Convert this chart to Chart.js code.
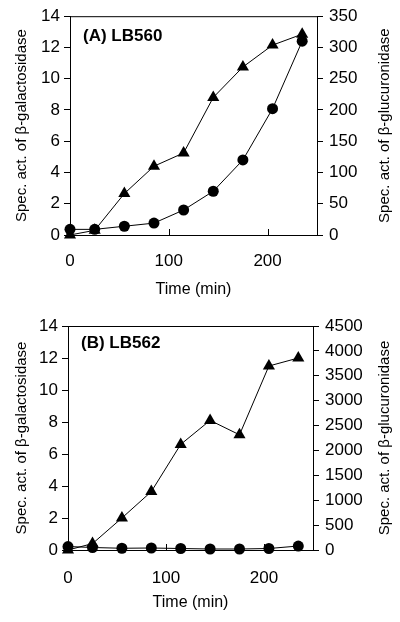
<!DOCTYPE html>
<html>
<head>
<meta charset="utf-8">
<script src="https://cdn.jsdelivr.net/npm/chart.js@4/dist/chart.umd.min.js"></script>
<style>
  body { margin: 0; background: #fff; }
  .panel { position: absolute; left: 0; }
</style>
</head>
<body>
<div class="panel" style="top:0"><canvas id="chartA" width="400" height="300"></canvas></div>
<div class="panel" style="top:300px"><canvas id="chartB" width="400" height="322"></canvas></div>
<script>
// Sampling times (min)
const times = [0, 25, 55, 85, 115, 145, 175, 205, 235];

// (A) LB560
const galA = [0, 0.3, 2.65, 4.4, 5.25, 8.8, 10.75, 12.15, 12.85];
const glucA = [9, 9, 14, 19, 40, 70, 120, 202, 310];

// (B) LB562
const galB = [0, 0.4, 2.0, 3.65, 6.6, 8.1, 7.2, 11.5, 12.0];
const glucB = [70, 50, 35, 40, 30, 20, 20, 30, 80];

const galTicks = [0, 2, 4, 6, 8, 10, 12, 14];
const glucTicksA = [0, 50, 100, 150, 200, 250, 300, 350];
const glucTicksB = [0, 500, 1000, 1500, 2000, 2500, 3000, 3500, 4000, 4500];
const timeTicks = [0, 100, 200];

const FONT = '"Liberation Sans", Arial, Helvetica, sans-serif';

// top border of the box, inward x ticks, right axis title and panel label
const framePlugin = {
    id: 'frame',
    afterDraw(chart, args, opts) {
        const ctx = chart.ctx;
        const area = chart.chartArea;
        const x = chart.scales.x;
        ctx.save();
        ctx.strokeStyle = '#000';
        ctx.lineWidth = 1;
        ctx.beginPath();
        ctx.moveTo(area.left, area.top + 0.5);
        ctx.lineTo(area.right, area.top + 0.5);
        timeTicks.forEach(t => {
            const px = Math.round(x.getPixelForValue(t)) + 0.5;
            ctx.moveTo(px, area.bottom);
            ctx.lineTo(px, area.bottom - 6);
        });
        ctx.stroke();

        ctx.fillStyle = '#000';
        ctx.font = 'bold 17px ' + FONT;
        ctx.textBaseline = 'middle';
        ctx.fillText(opts.label, area.left + opts.dx, area.top + opts.dy);

        // right title reads bottom-to-top like the left one
        ctx.font = '15px ' + FONT;
        ctx.textAlign = 'center';
        ctx.translate(opts.rightTitleX, (area.top + area.bottom) / 2);
        ctx.rotate(-Math.PI / 2);
        ctx.fillText('Spec. act. of β-glucuronidase', 0, 0);
        ctx.restore();
    }
};

function makePoints(xs, ys) {
    return xs.map((t, i) => ({ x: t, y: ys[i] }));
}

function buildChart(id, cfg) {
    const ctx = document.getElementById(id).getContext('2d');
    return new Chart(ctx, {
        type: 'line',
        data: {
            datasets: [{
                label: 'β-galactosidase',
                data: makePoints(times, cfg.gal),
                yAxisID: 'y',
                borderColor: '#000',
                borderWidth: 1,
                backgroundColor: '#000',
                pointStyle: 'triangle',
                pointRadius: 7,
                pointBorderWidth: 0,
                tension: 0,
                clip: false
            }, {
                label: 'β-glucuronidase',
                data: makePoints(times, cfg.gluc),
                yAxisID: 'y1',
                borderColor: '#000',
                borderWidth: 1,
                backgroundColor: '#000',
                pointStyle: 'circle',
                pointRadius: 5.5,
                pointBorderWidth: 0,
                tension: 0,
                clip: false
            }]
        },
        options: {
            responsive: false,
            animation: false,
            layout: { padding: { top: cfg.top, left: 0, right: 0, bottom: 0 } },
            plugins: {
                legend: { display: false },
                tooltip: { enabled: false },
                frame: { label: cfg.label, dx: 13, dy: cfg.labelDy, rightTitleX: 385 }
            },
            scales: {
                x: {
                    type: 'linear',
                    min: 0,
                    max: 250,
                    afterBuildTicks: s => { s.ticks = timeTicks.map(v => ({ value: v })); },
                    afterFit: s => { s.height = cfg.xHeight; },
                    grid: { display: false },
                    border: { display: true, color: '#000', width: 1 },
                    ticks: { color: '#000', padding: cfg.xPad, font: { family: FONT, size: 17 } },
                    title: {
                        display: true,
                        text: 'Time (min)',
                        color: '#000',
                        padding: { top: 0, bottom: cfg.xTitlePad },
                        font: { family: FONT, size: 16 }
                    }
                },
                y: {
                    position: 'left',
                    min: 0,
                    max: 14,
                    afterBuildTicks: s => { s.ticks = galTicks.map(v => ({ value: v })); },
                    afterFit: s => { s.width = cfg.leftW; },
                    grid: { drawOnChartArea: false, color: '#000', tickLength: 6 },
                    border: { display: true, color: '#000', width: 1 },
                    ticks: { color: '#000', padding: 4, font: { family: FONT, size: 17 } },
                    title: {
                        display: true,
                        text: 'Spec. act. of β-galactosidase',
                        color: '#000',
                        padding: { top: 13, bottom: 0 },
                        font: { family: FONT, size: 15 }
                    }
                },
                y1: {
                    position: 'right',
                    min: 0,
                    max: cfg.glucMax,
                    afterBuildTicks: s => { s.ticks = cfg.glucTicks.map(v => ({ value: v })); },
                    afterFit: s => { s.width = cfg.rightW; },
                    grid: { drawOnChartArea: false, color: '#000', tickLength: 6 },
                    border: { display: true, color: '#000', width: 1 },
                    ticks: {
                        color: '#000',
                        padding: 6,
                        font: { family: FONT, size: 17 },
                        callback: v => String(v)
                    }
                }
            }
        },
        plugins: [framePlugin]
    });
}

buildChart('chartA', {
    gal: galA, gluc: glucA, glucMax: 350, glucTicks: glucTicksA,
    label: '(A) LB560', labelDy: 20,
    top: 15, xHeight: 65, leftW: 70, rightW: 83, xPad: 8, xTitlePad: 1
});

buildChart('chartB', {
    gal: galB, gluc: glucB, glucMax: 4500, glucTicks: glucTicksB,
    label: '(B) LB562', labelDy: 17,
    top: 26, xHeight: 72, leftW: 68, rightW: 87, xPad: 10, xTitlePad: 10
});
</script>
</body>
</html>
